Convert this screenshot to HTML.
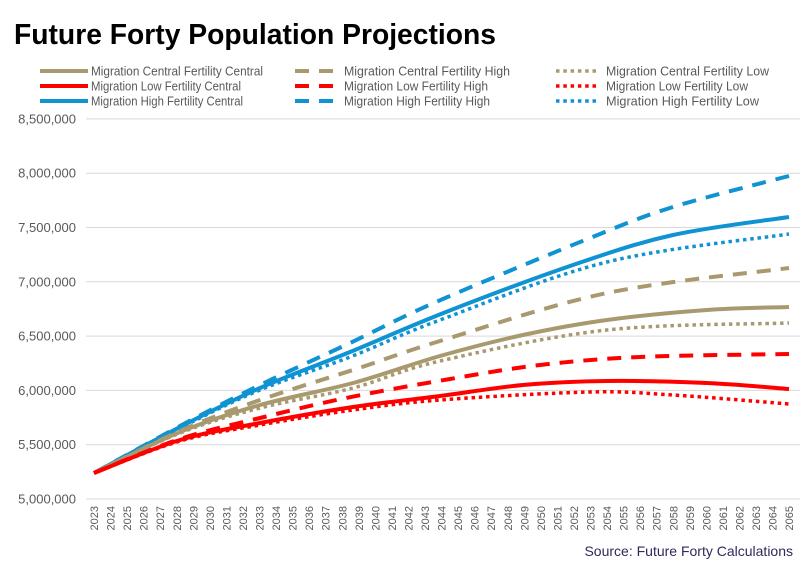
<!DOCTYPE html>
<html><head><meta charset="utf-8"><style>
body{margin:0;background:#fff;}
svg{display:block;font-family:"Liberation Sans",sans-serif;}
</style></head><body>
<svg id="s" width="800" height="564" viewBox="0 0 800 564">
<text x="14" y="44" font-size="29" font-weight="bold" fill="#000" textLength="482" lengthAdjust="spacingAndGlyphs">Future Forty Population Projections</text>
<g font-size="13" fill="#595959">
<line x1="40" y1="71" x2="88" y2="71" stroke="#a8996e" stroke-width="4"/>
<text x="91" y="75.5" textLength="172" lengthAdjust="spacingAndGlyphs">Migration Central Fertility Central</text>
<line x1="40" y1="86" x2="88" y2="86" stroke="#ff0000" stroke-width="4"/>
<text x="91" y="90.5" textLength="150" lengthAdjust="spacingAndGlyphs">Migration Low Fertility Central</text>
<line x1="40" y1="101" x2="88" y2="101" stroke="#0f93d2" stroke-width="4"/>
<text x="91" y="105.5" textLength="152" lengthAdjust="spacingAndGlyphs">Migration High Fertility Central</text>
<line x1="295" y1="71" x2="340" y2="71" stroke="#a8996e" stroke-width="4" stroke-dasharray="14 10"/>
<text x="344" y="75.5" textLength="166" lengthAdjust="spacingAndGlyphs">Migration Central Fertility High</text>
<line x1="295" y1="86" x2="340" y2="86" stroke="#ff0000" stroke-width="4" stroke-dasharray="14 10"/>
<text x="344" y="90.5" textLength="144" lengthAdjust="spacingAndGlyphs">Migration Low Fertility High</text>
<line x1="295" y1="101" x2="340" y2="101" stroke="#0f93d2" stroke-width="4" stroke-dasharray="14 10"/>
<text x="344" y="105.5" textLength="146" lengthAdjust="spacingAndGlyphs">Migration High Fertility High</text>
<line x1="556" y1="71" x2="599" y2="71" stroke="#a8996e" stroke-width="3.5" stroke-dasharray="3.5 3.8"/>
<text x="606" y="75.5" textLength="163" lengthAdjust="spacingAndGlyphs">Migration Central Fertility Low</text>
<line x1="556" y1="86" x2="599" y2="86" stroke="#ff0000" stroke-width="3.5" stroke-dasharray="3.5 3.8"/>
<text x="606" y="90.5" textLength="142" lengthAdjust="spacingAndGlyphs">Migration Low Fertility Low</text>
<line x1="556" y1="101" x2="599" y2="101" stroke="#0f93d2" stroke-width="3.5" stroke-dasharray="3.5 3.8"/>
<text x="606" y="105.5" textLength="153" lengthAdjust="spacingAndGlyphs">Migration High Fertility Low</text>
</g>
<g id="grid" stroke="#d9d9d9" stroke-width="1"></g>
<g id="ylab" font-size="13" fill="#595959" text-anchor="end"></g>
<g id="xlab" font-size="11" fill="#595959" text-anchor="end"></g>
<g id="ser" fill="none" stroke-width="4"></g>
<text x="793" y="556" font-size="14" fill="#2e2a5a" text-anchor="end">Source: Future Forty Calculations</text>
</svg>
<script>
var NS="http://www.w3.org/2000/svg";
function el(p,t,a,txt){var e=document.createElementNS(NS,t);for(var k in a)e.setAttribute(k,a[k]);if(txt)e.textContent=txt;document.getElementById(p).appendChild(e);}
for(var i=0;i<8;i++){var y=499-i*54.3;el("grid","line",{x1:86,x2:800,y1:y,y2:y});
var v=(5000000+i*500000).toLocaleString("en-US");el("ylab","text",{x:76,y:y+4.5},v);}
for(var yr=2023;yr<=2065;yr++){var x=94+16.55*(yr-2023);el("xlab","text",{transform:"translate("+(x+4)+",506) rotate(-90)"},String(yr));}
var S=[
["#0f93d2","14 10",[[94,473],[180,426],[260,385],[350,343],[436,302],[590,238],[673,207],[789,176]]],
["#0f93d2","",[[94,473],[180,427],[260,388],[350,352],[446,312],[573,265],[673,235],[789,217]]],
["#0f93d2","3.5 3.8",[[94,473],[180,428],[260,390],[350,357],[440,320],[607,262],[789,234]]],
["#a8996e","14 10",[[94,473],[180,431],[260,400],[359,368],[440,341],[607,293],[789,268]]],
["#a8996e","",[[94,473],[180,432],[260,405],[353,383],[440,356],[523,335],[607,320],[707,310],[789,307]]],
["#a8996e","3.5 3.8",[[94,473],[180,433],[260,408],[353,388],[440,361],[607,330],[789,323]]],
["#ff0000","14 10",[[94,473],[180,439],[260,418],[346,398],[450,379],[540,365],[640,357],[789,354]]],
["#ff0000","",[[94,473],[180,440],[260,423],[353,407],[440,396],[523,385],[607,381],[707,383],[789,389]]],
["#ff0000","3.5 3.8",[[94,473],[180,441],[260,425],[353,410],[440,400],[590,392],[673,395],[789,404]]]
];
S.forEach(function(s){var p=s[2],d="M"+p[0][0]+","+p[0][1];
for(var i=0;i<p.length-1;i++){var p0=p[Math.max(i-1,0)],p1=p[i],p2=p[i+1],p3=p[Math.min(i+2,p.length-1)];
d+=" C"+(p1[0]+(p2[0]-p0[0])/6)+","+(p1[1]+(p2[1]-p0[1])/6)+" "+(p2[0]-(p3[0]-p1[0])/6)+","+(p2[1]-(p3[1]-p1[1])/6)+" "+p2[0]+","+p2[1];}
var a={d:d,stroke:s[0]};if(s[1])a["stroke-dasharray"]=s[1];if(s[1]=="3.5 3.8")a["stroke-width"]=3.5;el("ser","path",a);});
</script>
</body></html>
